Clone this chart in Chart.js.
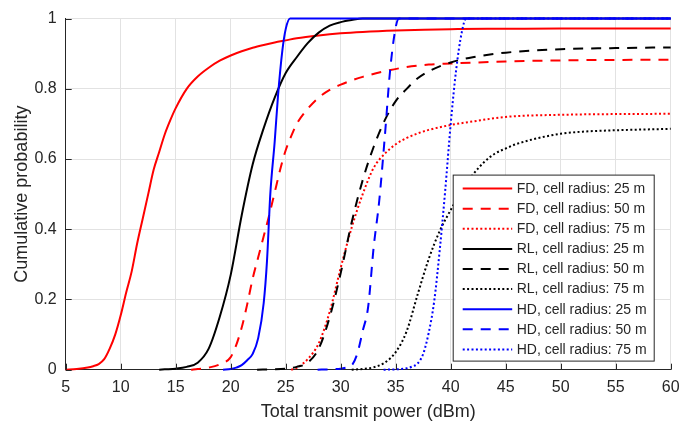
<!DOCTYPE html>
<html>
<head>
<meta charset="utf-8">
<style>
  html, body { margin: 0; padding: 0; background: #fff; }
</style>
<script src="https://cdn.jsdelivr.net/npm/chart.js@4.4.0/dist/chart.umd.min.js"></script>
</head>
<body>
<canvas id="cdfChart" width="694" height="424"></canvas>
<script>
// axis ticks
const xTicks = [5, 10, 15, 20, 25, 30, 35, 40, 45, 50, 55, 60];
const yTicks = [0, 0.2, 0.4, 0.6, 0.8, 1];
const yTickLabels = ['0', '0.2', '0.4', '0.6', '0.8', '1'];

// FD, 25 / 50 / 75 m
const fd25X = [5, 6, 7, 7.5, 8, 8.5, 9, 9.5, 10, 10.5, 11, 11.5, 12, 12.5, 13, 13.5, 14, 14.5, 15, 16, 17, 18, 19, 20, 21, 22, 23, 24, 25, 26, 28, 30, 32, 35, 40, 45, 50, 60];
const fd25Y = [0, 0.002, 0.006, 0.01, 0.016, 0.03, 0.06, 0.1, 0.155, 0.22, 0.28, 0.36, 0.43, 0.5, 0.57, 0.62, 0.67, 0.71, 0.745, 0.8, 0.835, 0.86, 0.88, 0.895, 0.907, 0.917, 0.925, 0.932, 0.938, 0.944, 0.952, 0.958, 0.962, 0.966, 0.97, 0.971, 0.972, 0.972];
const fd50X = [16.4, 17, 18, 19, 20, 20.5, 21, 21.5, 22, 22.5, 23, 23.5, 24, 24.5, 25, 25.5, 26, 27, 28, 29, 30, 32, 34, 36, 38, 40, 45, 50, 60];
const fd50Y = [0, 0.002, 0.006, 0.015, 0.036, 0.07, 0.12, 0.186, 0.26, 0.32, 0.38, 0.44, 0.505, 0.57, 0.625, 0.665, 0.7, 0.743, 0.775, 0.797, 0.812, 0.834, 0.85, 0.862, 0.869, 0.872, 0.878, 0.881, 0.883];
const fd75X = [25.5, 26, 27, 28, 29, 30, 31, 32, 33, 34, 35, 36, 37, 38, 40, 42, 45, 50, 60];
const fd75Y = [0, 0.005, 0.03, 0.075, 0.165, 0.29, 0.405, 0.5, 0.575, 0.615, 0.642, 0.66, 0.673, 0.683, 0.697, 0.707, 0.72, 0.726, 0.729];

// RL, 25 / 50 / 75 m
const rl25X = [13.5, 14, 15, 16, 17, 18, 19, 20, 21, 22, 23, 24, 25, 26, 27, 28, 29, 30, 31, 32, 60];
const rl25Y = [0, 0.001, 0.003, 0.008, 0.02, 0.06, 0.15, 0.27, 0.44, 0.585, 0.688, 0.775, 0.845, 0.89, 0.93, 0.96, 0.98, 0.99, 0.996, 1, 1];
const rl50X = [22.4, 24, 25, 26, 27, 28, 29, 30, 31, 32, 33, 34, 35, 36, 37, 38, 40, 42, 45, 50, 55, 60];
const rl50Y = [0, 0.001, 0.003, 0.008, 0.02, 0.06, 0.15, 0.275, 0.42, 0.54, 0.635, 0.71, 0.765, 0.8, 0.83, 0.85, 0.875, 0.89, 0.903, 0.913, 0.916, 0.918];
const rl75X = [31, 32, 33, 34, 35, 36, 37, 38, 39, 40, 41, 42, 43, 44, 45, 46, 48, 50, 52, 55, 60];
const rl75Y = [0, 0.002, 0.007, 0.02, 0.05, 0.11, 0.215, 0.315, 0.395, 0.455, 0.51, 0.555, 0.59, 0.615, 0.63, 0.643, 0.66, 0.672, 0.678, 0.682, 0.686];

// HD, 25 / 50 / 75 m
const hd25X = [19.3, 20, 20.5, 21, 21.5, 22, 22.5, 23, 23.3, 23.6, 24, 24.3, 24.7, 25, 25.4, 60];
const hd25Y = [0, 0.002, 0.006, 0.013, 0.027, 0.045, 0.09, 0.19, 0.31, 0.5, 0.65, 0.78, 0.91, 0.97, 1, 1];
const hd50X = [27.9, 29, 30, 30.5, 31, 31.5, 32, 32.5, 33, 33.5, 34, 34.5, 35, 35.3, 60];
const hd50Y = [0, 0.001, 0.003, 0.006, 0.012, 0.045, 0.11, 0.18, 0.35, 0.48, 0.66, 0.855, 0.975, 1, 1];
const hd75X = [33.9, 35, 36, 36.5, 37, 37.5, 38, 38.5, 39, 39.5, 40, 40.5, 41, 41.4, 60];
const hd75Y = [0, 0.001, 0.004, 0.009, 0.018, 0.045, 0.105, 0.195, 0.34, 0.51, 0.7, 0.855, 0.96, 1, 1];

const FONT = '"Liberation Sans", Arial, Helvetica, sans-serif';
const INK = '#262626';
const SOLID = [], DASHED = [10, 8], DOTTED = [2, 2.4];

function pts(xs, ys) {
  return xs.map((x, i) => ({ x: x, y: ys[i] }));
}

function series(label, xs, ys, color, dash, i) {
  return {
    label: label,
    data: pts(xs, ys),
    borderColor: color,
    borderDash: dash,
    borderWidth: 2,
    pointRadius: 0,
    fill: false,
    cubicInterpolationMode: 'monotone',
    clip: false,
    order: 9 - i
  };
}

// inward tick marks on the left and bottom axes
const innerTicks = {
  id: 'innerTicks',
  afterDraw(chart) {
    const { ctx, chartArea, scales } = chart;
    ctx.save();
    ctx.strokeStyle = INK;
    ctx.lineWidth = 1;
    ctx.beginPath();
    scales.x.ticks.forEach(t => {
      const px = Math.round(scales.x.getPixelForValue(t.value)) + 0.5;
      ctx.moveTo(px, chartArea.bottom);
      ctx.lineTo(px, chartArea.bottom - 6);
    });
    scales.y.ticks.forEach(t => {
      const py = Math.round(scales.y.getPixelForValue(t.value)) + 0.5;
      ctx.moveTo(chartArea.left, py);
      ctx.lineTo(chartArea.left + 6, py);
    });
    ctx.stroke();
    ctx.restore();
  }
};

// boxed legend in the lower right of the plot
const boxLegend = {
  id: 'boxLegend',
  afterDraw(chart) {
    const { ctx, chartArea } = chart;
    const x0 = chartArea.right - 217.5, y0 = chartArea.top + 156.5;
    const w = 201, h = 186, rowH = 20.1;
    ctx.save();
    ctx.fillStyle = '#fff';
    ctx.fillRect(x0, y0, w, h);
    ctx.strokeStyle = INK;
    ctx.lineWidth = 1;
    ctx.strokeRect(x0, y0, w, h);
    ctx.font = '14px ' + FONT;
    ctx.textBaseline = 'middle';
    chart.data.datasets.forEach((ds, i) => {
      const y = y0 + 13.5 + i * rowH;
      ctx.beginPath();
      ctx.strokeStyle = ds.borderColor;
      ctx.lineWidth = 2;
      ctx.setLineDash(ds.borderDash);
      ctx.moveTo(x0 + 9.5, y);
      ctx.lineTo(x0 + 59, y);
      ctx.stroke();
      ctx.setLineDash([]);
      ctx.fillStyle = INK;
      ctx.fillText(ds.label, x0 + 63.5, y + 0.5);
    });
    ctx.restore();
  }
};

new Chart(document.getElementById('cdfChart'), {
  type: 'line',
  data: {
    datasets: [
      series('FD, cell radius: 25 m', fd25X, fd25Y, '#ff0000', SOLID, 0),
      series('FD, cell radius: 50 m', fd50X, fd50Y, '#ff0000', DASHED, 1),
      series('FD, cell radius: 75 m', fd75X, fd75Y, '#ff0000', DOTTED, 2),
      series('RL, cell radius: 25 m', rl25X, rl25Y, '#000000', SOLID, 3),
      series('RL, cell radius: 50 m', rl50X, rl50Y, '#000000', DASHED, 4),
      series('RL, cell radius: 75 m', rl75X, rl75Y, '#000000', DOTTED, 5),
      series('HD, cell radius: 25 m', hd25X, hd25Y, '#0000ff', SOLID, 6),
      series('HD, cell radius: 50 m', hd50X, hd50Y, '#0000ff', DASHED, 7),
      series('HD, cell radius: 75 m', hd75X, hd75Y, '#0000ff', DOTTED, 8)
    ]
  },
  options: {
    responsive: false,
    animation: false,
    layout: { padding: { left: 0, top: 11.5, right: 23.3, bottom: 0 } },
    plugins: {
      legend: { display: false },
      tooltip: { enabled: false }
    },
    scales: {
      x: {
        type: 'linear',
        min: 5,
        max: 60,
        afterBuildTicks: s => { s.ticks = xTicks.map(v => ({ value: v })); },
        afterFit: s => { s.height = 54.3; },
        grid: { color: '#e2e2e2', drawTicks: false },
        border: { color: INK, width: 1 },
        ticks: { color: INK, font: { family: FONT, size: 16 }, padding: 8, maxRotation: 0, autoSkip: false },
        title: { display: true, text: 'Total transmit power (dBm)', color: INK, font: { family: FONT, size: 18 }, padding: { top: 0, bottom: 1 } }
      },
      y: {
        type: 'linear',
        min: 0,
        max: 1,
        afterBuildTicks: s => { s.ticks = yTicks.map(v => ({ value: v })); },
        afterFit: s => { s.width = 65.7; },
        grid: { color: '#e2e2e2', drawTicks: false },
        border: { color: INK, width: 1 },
        ticks: { color: INK, font: { family: FONT, size: 16 }, padding: 9, callback: (v, i) => yTickLabels[i] },
        title: { display: true, text: 'Cumulative probability', color: INK, font: { family: FONT, size: 18 }, padding: { top: 11, bottom: 0 } }
      }
    }
  },
  plugins: [innerTicks, boxLegend]
});
</script>
</body>
</html>
